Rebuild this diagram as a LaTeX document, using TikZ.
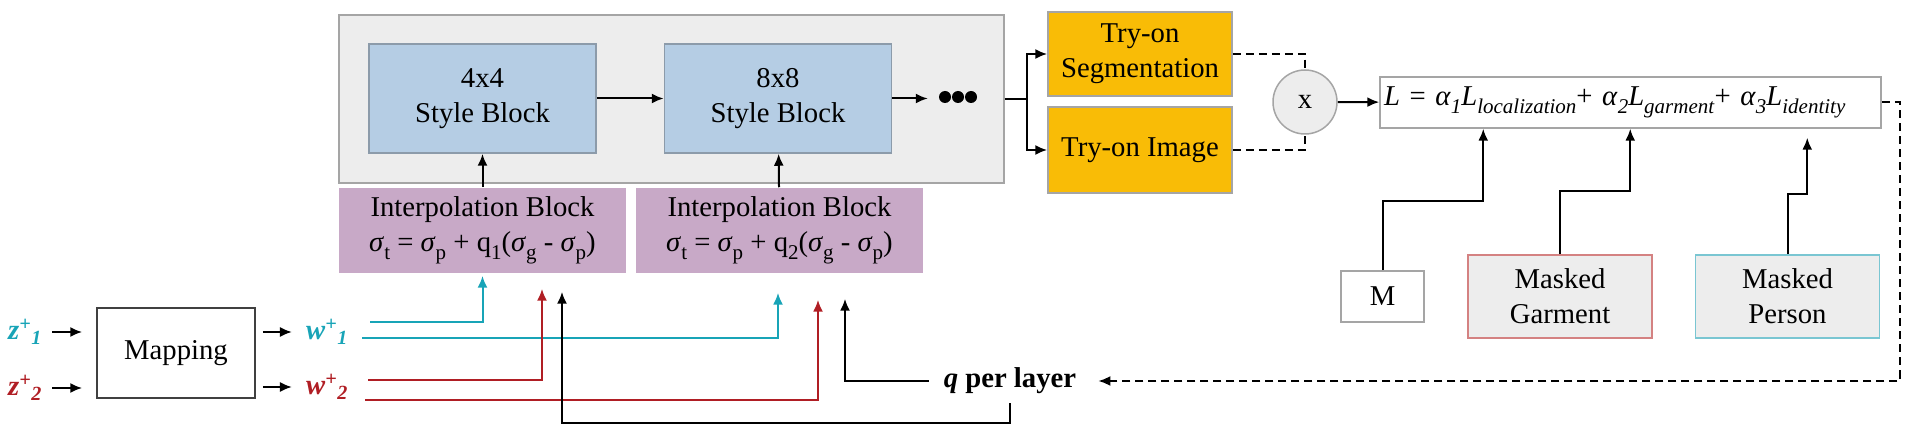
\documentclass[tikz,border=0pt]{standalone}
\usepackage{fontspec}
\setmainfont{Liberation Serif}
\usetikzlibrary{arrows.meta,positioning}
\definecolor{zcyan}{RGB}{24,164,183}
\definecolor{zred}{RGB}{176,30,36}
\definecolor{styleblue}{RGB}{181,205,228}
\definecolor{styleedge}{RGB}{140,155,170}
\definecolor{interpmauve}{RGB}{200,169,199}
\definecolor{tryonyellow}{RGB}{249,188,6}
\definecolor{panelgrey}{RGB}{237,237,237}
\definecolor{edgegrey}{RGB}{165,165,165}
\definecolor{garmentedge}{RGB}{212,130,130}
\definecolor{personedge}{RGB}{122,198,210}
\newcommand{\sig}{\textit{σ}}
\newcommand{\lo}[1]{\raisebox{-8pt}{\fontsize{21}{21}\selectfont #1}}
\newcommand{\latent}[3]{\textcolor{#1}{\bfseries\itshape #2\textsuperscript{+}\textsubscript{#3}}}
\begin{document}
\begin{tikzpicture}[x=1pt,y=1pt,>={Latex[length=12pt,width=10pt]},
    every node/.style={font=\fontsize{28.7}{35}\selectfont},
    box/.style={draw=edgegrey,line width=1.5pt,inner sep=0pt,align=center},
    styleblock/.style={box,fill=styleblue,draw=styleedge,minimum width=227pt,minimum height=109pt},
    interp/.style={box,draw=none,fill=interpmauve,minimum width=287pt,minimum height=85pt},
    tryon/.style={box,fill=tryonyellow,minimum width=184pt},
    masked/.style={box,fill=panelgrey,minimum width=184pt,minimum height=83pt},
    flow/.style={->,line width=2pt},
    cyanflow/.style={flow,draw=zcyan},
    redflow/.style={flow,draw=zred},
    feedback/.style={line width=2pt,dash pattern=on 8pt off 5pt}]

    \useasboundingbox (0,0) rectangle (1916,-427);

    \node[box,fill=panelgrey,minimum width=665pt,minimum height=168pt] (generator) at (671.5,-99) {};
    \node[styleblock] (blk4) at (482.5,-98.5) {4x4\\Style Block};
    \node[styleblock] (blk8) at (778,-98.5) {8x8\\Style Block};
    \node[interp] (interp1) at (482.5,-230.5) {Interpolation Block\\\sig\lo{t} = \sig\lo{p} + q\lo{1}(\sig\lo{g} - \sig\lo{p})};
    \node[interp] (interp2) at (779.5,-230.5) {Interpolation Block\\\sig\lo{t} = \sig\lo{p} + q\lo{2}(\sig\lo{g} - \sig\lo{p})};
    \node[inner sep=0pt,minimum width=40pt,minimum height=12pt] (dots) at (958,-97) {};
    \foreach \i in {-1,0,1} {
        \fill (958+13*\i,-97) circle (6pt);
    }
    \node[tryon,minimum height=84pt] (seg) at (1140,-54) {Try-on\\Segmentation};
    \node[tryon,minimum height=86pt] (img) at (1140,-150) {Try-on Image};
    \node[circle,draw=edgegrey,line width=1.5pt,fill=panelgrey,minimum size=64pt,inner sep=0pt] (mult) at (1305,-102) {x};
    \node[box,fill=white,minimum height=51pt,inner xsep=4pt,text width=493pt,align=left] (loss) at (1630.5,-102.5)
        {\textit{L} = \textit{α}\lo{\textit{1}}\textit{L}\lo{\textit{localization}}+ \textit{α}\lo{\textit{2}}\textit{L}\lo{\textit{garment}}+ \textit{α}\lo{\textit{3}}\textit{L}\lo{\textit{identity}}};
    \node[box,fill=white,minimum width=83pt,minimum height=51pt] (mbox) at (1382.5,-296.5) {M};
    \node[masked,draw=garmentedge] (garment) at (1560,-296.5) {Masked\\Garment};
    \node[masked,draw=personedge] (person) at (1787.5,-296.5) {Masked\\Person};

    \node[box,draw=black!75,fill=white,minimum width=158pt,minimum height=90pt] (mapping) at (176,-353) {Mapping};
    \node[inner sep=2pt] (z1) at (25,-332) {\latent{zcyan}{z}{1}};
    \node[inner sep=2pt] (z2) at (25,-388) {\latent{zred}{z}{2}};
    \node[inner sep=2pt] (w1) at (327,-332) {\latent{zcyan}{w}{1}};
    \node[inner sep=2pt] (w2) at (327,-387) {\latent{zred}{w}{2}};
    \node[inner sep=2pt,font=\fontsize{28.7}{35}\selectfont\bfseries] (q) at (1010,-381) {\textit{q} per layer};

    \draw[flow,shorten <=8pt,shorten >=14pt] (z1.east) -- (z1 -| mapping.west);
    \draw[flow,shorten <=8pt,shorten >=14pt] (z2.east) -- (z2 -| mapping.west);
    \draw[flow,shorten <=7pt,shorten >=12pt] (mapping.east |- w1) -- (w1.west);
    \draw[flow,shorten <=7pt,shorten >=12pt] (mapping.east |- w2) -- (w2.west);

    \draw[cyanflow] ([xshift=20pt,yshift=10pt]w1.east) -| ([yshift=-2pt]interp1.south);
    \draw[cyanflow] ([xshift=12pt,yshift=-6pt]w1.east) -| ([xshift=-1.5pt,yshift=-19pt]interp2.south);
    \draw[redflow] ([xshift=18pt,yshift=7pt]w2.east) -| ([xshift=59.5pt,yshift=-15pt]interp1.south);
    \draw[redflow] ([xshift=15pt,yshift=-13pt]w2.east) -| ([xshift=38.5pt,yshift=-26pt]interp2.south);
    \draw[flow] ([yshift=-7pt]q.south) -- ++(0,-20) -| ([xshift=79.5pt,yshift=-18pt]interp1.south);
    \draw[flow,shorten <=13pt] (q.west) -| ([xshift=65.5pt,yshift=-25pt]interp2.south);

    \draw[flow] (interp1) -- (blk4);
    \draw[flow] (interp2) -- (blk8);
    \draw[flow] (blk4) -- (blk8);
    \draw[flow,shorten >=10pt] (blk8.east) -- (blk8.east -| dots.west);
    \draw[flow] (generator.east) -- ++(22,0) |- (seg.west);
    \draw[flow] (generator.east) -- ++(22,0) |- (img.west);

    \draw[feedback] (seg.east) -| (mult.north);
    \draw[feedback] (img.east) -| (mult.south);
    \draw[flow] (mult) -- (loss);

    \draw[flow] (mbox.north) -- ++(0,69) -| ([xshift=104pt]loss.south west);
    \draw[flow] (garment.north) -- ++(0,63) -| ([xshift=251pt]loss.south west);
    \draw[flow] (person.north) -- ++(0,60) -| ([xshift=428pt,yshift=-9pt]loss.south west);
    \draw[feedback,->,shorten >=20pt] (loss.east) -- ++(18,0) |- (q.east);

\end{tikzpicture}
\end{document}
